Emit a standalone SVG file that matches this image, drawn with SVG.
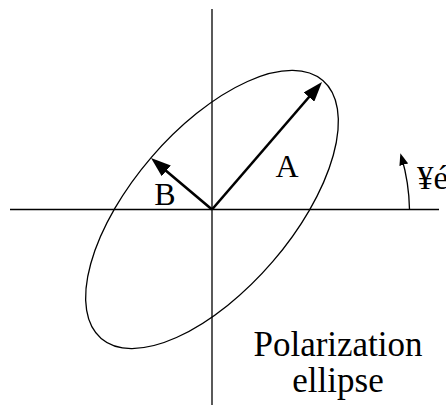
<svg xmlns="http://www.w3.org/2000/svg" width="446" height="405" viewBox="0 0 446 405">
<style>
.ax{stroke:#000;stroke-width:1.3;fill:none}
.el{stroke:#000;stroke-width:1.3;fill:none}
.vec{stroke:#000;stroke-width:2.6;fill:none}
.thin{stroke:#000;stroke-width:1.3;fill:none}
text{font-family:"Liberation Serif","Times New Roman",serif;fill:#000}
</style>
<defs>
<marker id="big" markerUnits="userSpaceOnUse" viewBox="-20 -7 20 14" refX="-6" refY="0" markerWidth="20" markerHeight="14" orient="auto">
<path d="M0,0 L-20,-7 L-20,7 Z" fill="#000"/>
</marker>
<marker id="small" markerUnits="userSpaceOnUse" viewBox="-12 -4.5 12 9" refX="-4" refY="0" markerWidth="12" markerHeight="9" orient="auto">
<path d="M0,0 L-12,-4.5 L-12,4.5 Z" fill="#000"/>
</marker>
</defs>
<g id="axes">
<line class="ax" x1="212" y1="9" x2="212" y2="405"/>
<line class="ax" x1="10" y1="209.5" x2="439" y2="209.5"/>
</g>
<g id="ellipse">
<ellipse class="el" cx="212" cy="209.5" rx="170" ry="80" transform="rotate(-49.3 212 209.5)"/>
</g>
<g id="connectors">
<line class="vec" x1="212" y1="209.5" x2="318.1" y2="86.5" marker-end="url(#big)"/>
<line class="vec" x1="212" y1="209.5" x2="155.6" y2="161.9" marker-end="url(#big)"/>
<path class="thin" d="M409.5 209.5 A197 197 0 0 0 401.5 157" marker-end="url(#small)"/>
</g>
<g id="labelA"><text x="287" y="177" font-size="32" text-anchor="middle">A</text></g>
<g id="labelB"><text x="165" y="205" font-size="32" text-anchor="middle">B</text></g>
<g id="angle"><text x="417" y="189" font-size="33">¥é</text></g>
<g id="caption">
<text x="338" y="356" font-size="35" text-anchor="middle">Polarization</text>
<text x="338" y="392" font-size="35" text-anchor="middle">ellipse</text>
</g>
</svg>
